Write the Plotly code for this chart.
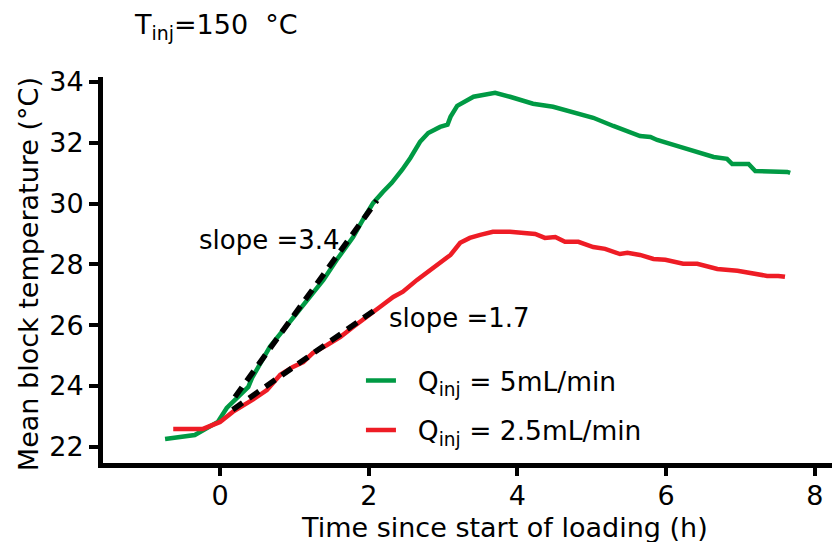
import plotly.graph_objects as go

# Q_inj = 5 mL/min (green)
t_fast = [-0.74, -0.34, -0.03, 0.09, 0.38, 0.43, 0.67, 0.85, 0.90, 1.17, 1.39, 1.57, 1.71, 1.79,
          1.92, 2.06, 2.19, 2.31, 2.45, 2.56, 2.69, 2.80, 2.96, 3.06, 3.10, 3.19, 3.41, 3.70,
          3.90, 4.21, 4.48, 4.85, 5.02, 5.29, 5.56, 5.65, 5.79, 5.88, 6.19, 6.37, 6.55, 6.64,
          6.82, 6.89, 7.11, 7.20, 7.63, 7.67]
T_fast = [22.26, 22.39, 22.82, 23.28, 23.97, 24.27, 25.29, 25.85, 26.01, 26.83, 27.49, 28.15, 28.64, 28.90,
          29.46, 30.02, 30.38, 30.68, 31.11, 31.50, 32.03, 32.32, 32.52, 32.59, 32.85, 33.21, 33.51, 33.64,
          33.51, 33.28, 33.18, 32.91, 32.82, 32.55, 32.32, 32.22, 32.19, 32.09, 31.86, 31.73, 31.63, 31.53,
          31.47, 31.30, 31.30, 31.07, 31.04, 31.01]

# Q_inj = 2.5 mL/min (red)
t_slow = [-0.63, -0.23, 0.00, 0.17, 0.44, 0.63, 0.81, 0.98, 1.12, 1.25, 1.44, 1.62, 1.79, 1.98,
          2.15, 2.33, 2.46, 2.65, 2.83, 2.96, 3.10, 3.23, 3.36, 3.50, 3.67, 3.90, 4.13, 4.24,
          4.37, 4.51, 4.64, 4.82, 5.02, 5.18, 5.38, 5.48, 5.65, 5.83, 5.99, 6.23, 6.42, 6.69,
          6.96, 7.17, 7.36, 7.51, 7.60]
T_slow = [22.59, 22.59, 22.82, 23.15, 23.55, 23.87, 24.37, 24.63, 24.79, 25.09, 25.35, 25.62, 25.94, 26.27,
          26.60, 26.93, 27.10, 27.49, 27.82, 28.08, 28.31, 28.71, 28.87, 28.97, 29.07, 29.07, 29.03, 29.00,
          28.87, 28.90, 28.74, 28.74, 28.57, 28.51, 28.34, 28.38, 28.31, 28.18, 28.15, 28.02, 28.02, 27.85,
          27.79, 27.72, 27.62, 27.62, 27.59]

# linear fits (end points)
fit_fast_t = [0.20, 2.11]
fit_fast_T = [23.64, 30.10]
fit_slow_t = [0.17, 2.15]
fit_slow_T = [23.22, 26.62]

x_ticks = [0, 2, 4, 6, 8]
y_ticks = [22, 24, 26, 28, 30, 32, 34]

GREEN = "#009a44"
RED = "#ee1c25"
FONT = "DejaVu Sans"

fig = go.Figure()
fig.add_trace(go.Scatter(x=t_fast, y=T_fast, mode="lines", line=dict(color=GREEN, width=4.5),
                         name="\u00a0\u00a0Q<sub>inj</sub> = 5mL/min", legendgroup="a"))
fig.add_trace(go.Scatter(x=t_slow, y=T_slow, mode="lines", line=dict(color=RED, width=4.5),
                         name="\u00a0\u00a0Q<sub>inj</sub> = 2.5mL/min", legendgroup="b"))
fig.add_trace(go.Scatter(x=fit_fast_t, y=fit_fast_T, mode="lines",
                         line=dict(color="black", width=5.5, dash="12px,8px"), showlegend=False))
fig.add_trace(go.Scatter(x=fit_slow_t, y=fit_slow_T, mode="lines",
                         line=dict(color="black", width=5.5, dash="12px,8px"), showlegend=False))

fig.update_layout(
    width=832, height=534,
    margin=dict(l=95, r=0, t=69, b=79),
    plot_bgcolor="white", paper_bgcolor="white",
    font=dict(family=FONT, size=27, color="black"),
    showlegend=True,
    legend=dict(x=0.35, y=0.275, xanchor="left", yanchor="top", bgcolor="rgba(0,0,0,0)",
                font=dict(size=26.5), tracegroupgap=12),
    xaxis=dict(range=[-1.575, 8.34], tickvals=x_ticks, showline=True, linewidth=5, linecolor="black",
               ticks="outside", ticklen=8, tickwidth=4, tickcolor="black", showgrid=False,
               zeroline=False, tickfont=dict(size=27), ticklabelstandoff=-3),
    yaxis=dict(range=[21.47, 34.16], tickvals=y_ticks, showline=True, linewidth=5, linecolor="black",
               ticks="outside", ticklen=9, tickwidth=4, tickcolor="black", showgrid=False,
               zeroline=False, tickfont=dict(size=27)),
    annotations=[
        dict(text="T<sub>inj</sub>=150\u00a0\u00a0°C", xref="paper", yref="paper", x=0.039, y=1.13,
             xanchor="left", yanchor="middle", showarrow=False, font=dict(size=27)),
        dict(text="Time since start of loading (h)", xref="paper", yref="paper", x=0.545, y=-0.168,
             xanchor="center", yanchor="middle", showarrow=False, font=dict(size=27)),
        dict(text="Mean block temperature (°C)", xref="paper", yref="paper", x=-0.1, y=0.49,
             xanchor="center", yanchor="middle", showarrow=False, textangle=-90, font=dict(size=27)),
        dict(text="slope =3.4", x=-0.31, y=28.80, xanchor="left", yanchor="middle",
             showarrow=False, font=dict(size=26)),
        dict(text="slope =1.7", x=2.25, y=26.24, xanchor="left", yanchor="middle",
             showarrow=False, font=dict(size=26)),
    ],
)

fig.write_html("out.html")
